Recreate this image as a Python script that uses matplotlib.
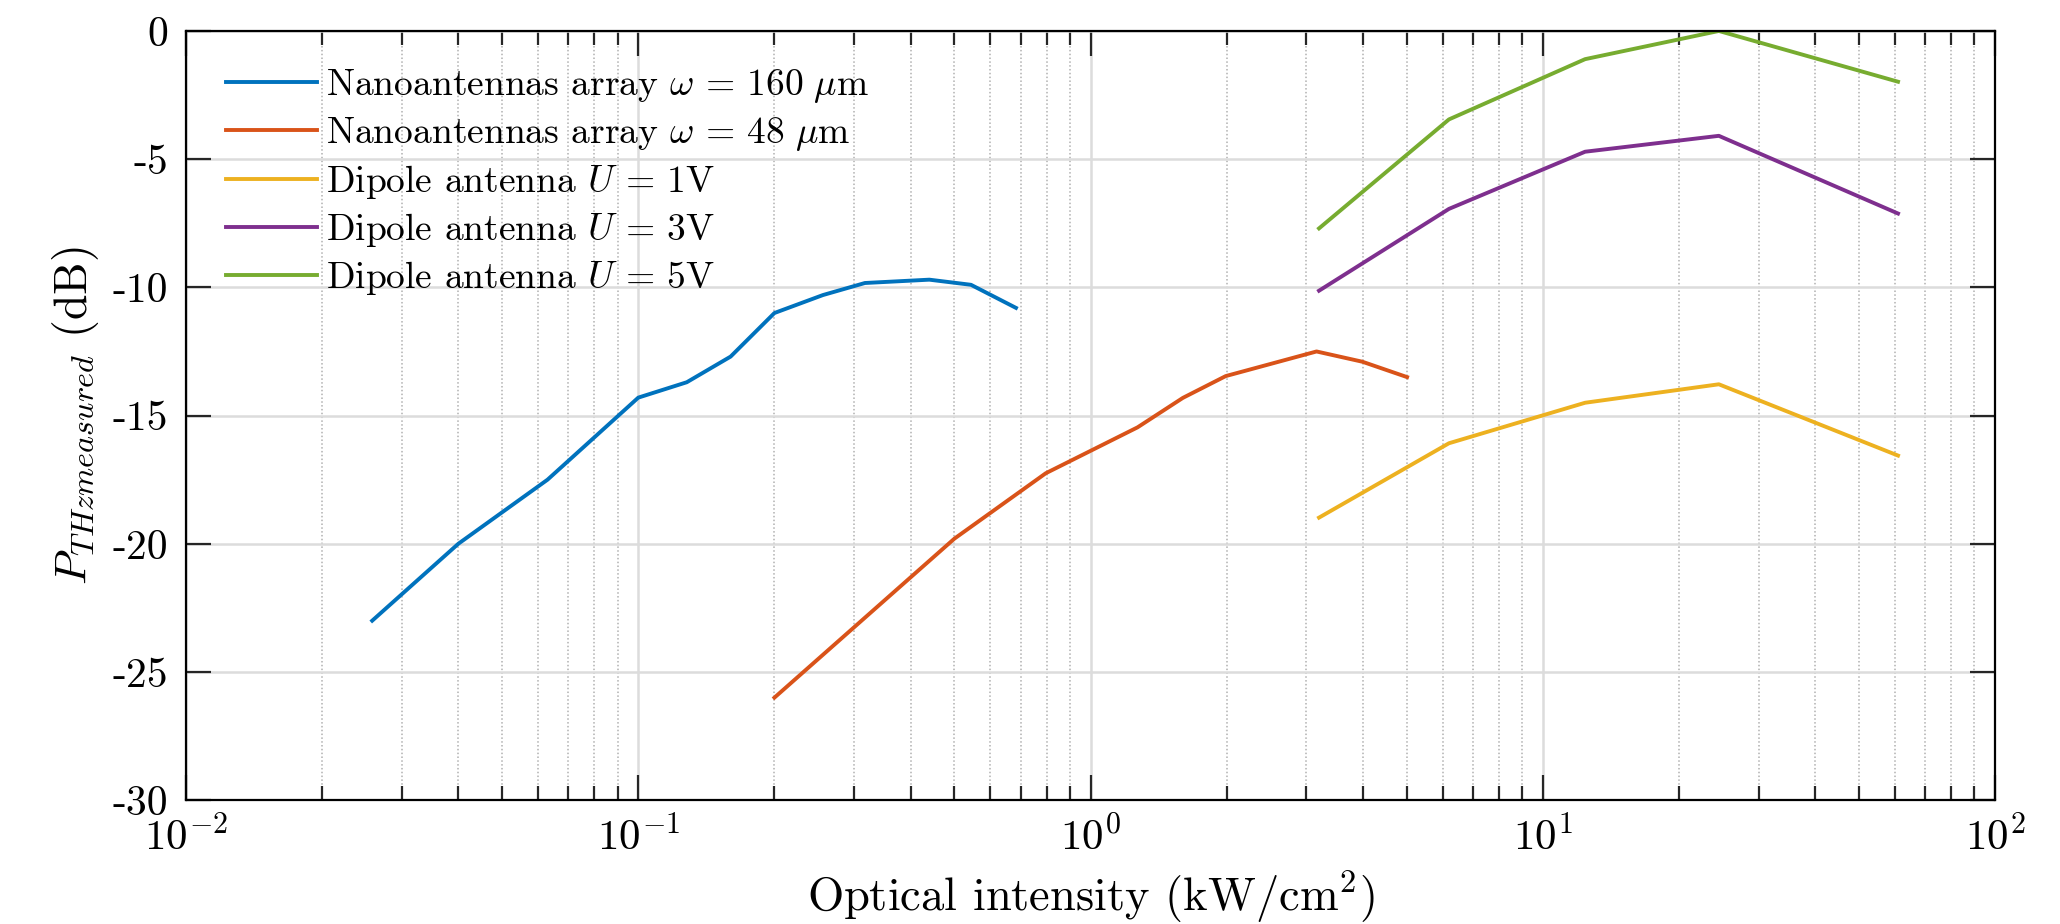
import matplotlib
matplotlib.use("Agg")
import matplotlib.pyplot as plt
from matplotlib.ticker import LogLocator, FixedLocator, FixedFormatter, NullFormatter

plt.rcParams.update({
    "font.family": "serif", "font.serif": ["cmr10", "DejaVu Serif"],
    "mathtext.fontset": "cm", "axes.formatter.use_mathtext": True,
    "axes.unicode_minus": False, "axes.linewidth": 1.6,
})

# values (x in kW/cm^2, y in dB)
nano160_x = [0.0258, 0.040, 0.063, 0.100, 0.128, 0.160, 0.200, 0.256, 0.317, 0.440, 0.544, 0.684]
nano160_y = [-23.0, -20.0, -17.5, -14.3, -13.7, -12.7, -11.0, -10.3, -9.83, -9.7, -9.9, -10.8]

nano48_x = [0.200, 0.500, 0.796, 1.27, 1.60, 1.99, 3.16, 3.99, 5.01]
nano48_y = [-26.0, -19.8, -17.25, -15.46, -14.31, -13.46, -12.5, -12.9, -13.5]

dipole_x = [3.2, 6.2, 12.4, 24.5, 61.0]
dipole1_y = [-18.98, -16.08, -14.5, -13.78, -16.56]
dipole3_y = [-10.13, -6.94, -4.71, -4.09, -7.12]
dipole5_y = [-7.7, -3.45, -1.1, 0.0, -1.98]

labels = [r"Nanoantennas array $\omega\,=\,160\ \mu$m",
          r"Nanoantennas array $\omega\,=\,48\ \mu$m",
          r"Dipole antenna $U\,=\,$1V",
          r"Dipole antenna $U\,=\,$3V",
          r"Dipole antenna $U\,=\,$5V"]
colors = ["#0072BD", "#D95319", "#EDB120", "#7E2F8E", "#77AC30"]

yticks = [-30, -25, -20, -15, -10, -5, 0]

fig = plt.figure(figsize=(20.6, 9.24), dpi=100)
ax = fig.add_axes([0.0903, 0.134, 0.8782, 0.8325])

series = [(nano160_x, nano160_y), (nano48_x, nano48_y),
          (dipole_x, dipole1_y), (dipole_x, dipole3_y), (dipole_x, dipole5_y)]
for (x, y), lab, c in zip(series, labels, colors):
    ax.plot(x, y, color=c, lw=2.8, label=lab)

ax.set_xscale("log")
ax.set_xlim(1e-2, 1e2)
ax.set_ylim(-30, 0)
ax.yaxis.set_major_locator(FixedLocator(yticks))
ax.yaxis.set_major_formatter(FixedFormatter([str(v) for v in yticks]))
ax.xaxis.set_major_locator(LogLocator(base=10, numticks=10))
ax.xaxis.set_minor_locator(LogLocator(base=10, subs=range(2, 10), numticks=20))
ax.xaxis.set_minor_formatter(NullFormatter())

ax.grid(True, which="major", color="#dcdcdc", lw=1.8, ls="-")
ax.grid(True, which="minor", axis="x", color="#b0b0b0", lw=1.1, ls=(0, (1.0, 1.5)))
ax.set_axisbelow(True)
ax.tick_params(which="both", direction="in", top=True, right=True, colors="#262626",
               labelcolor="black", width=1.6)
ax.tick_params(which="major", length=18)
ax.tick_params(which="minor", length=10)
ax.tick_params(axis="y", which="major", labelsize=30, pad=13)
ax.tick_params(axis="x", which="major", labelsize=31, pad=11)

ax.set_xlabel(r"Optical intensity (kW/cm$^2$)", fontsize=33.5, labelpad=7)
ax.set_ylabel(r"$P_{THzmeasured}$ (dB)", fontsize=33, labelpad=8)

ax.legend(loc="upper left", frameon=False, fontsize=27, handlelength=2.43,
          handletextpad=0.25, labelspacing=0.265, borderaxespad=0.0, borderpad=0.1,
          bbox_to_anchor=(0.0199, 0.958))

fig.savefig("out.png", dpi=100)
